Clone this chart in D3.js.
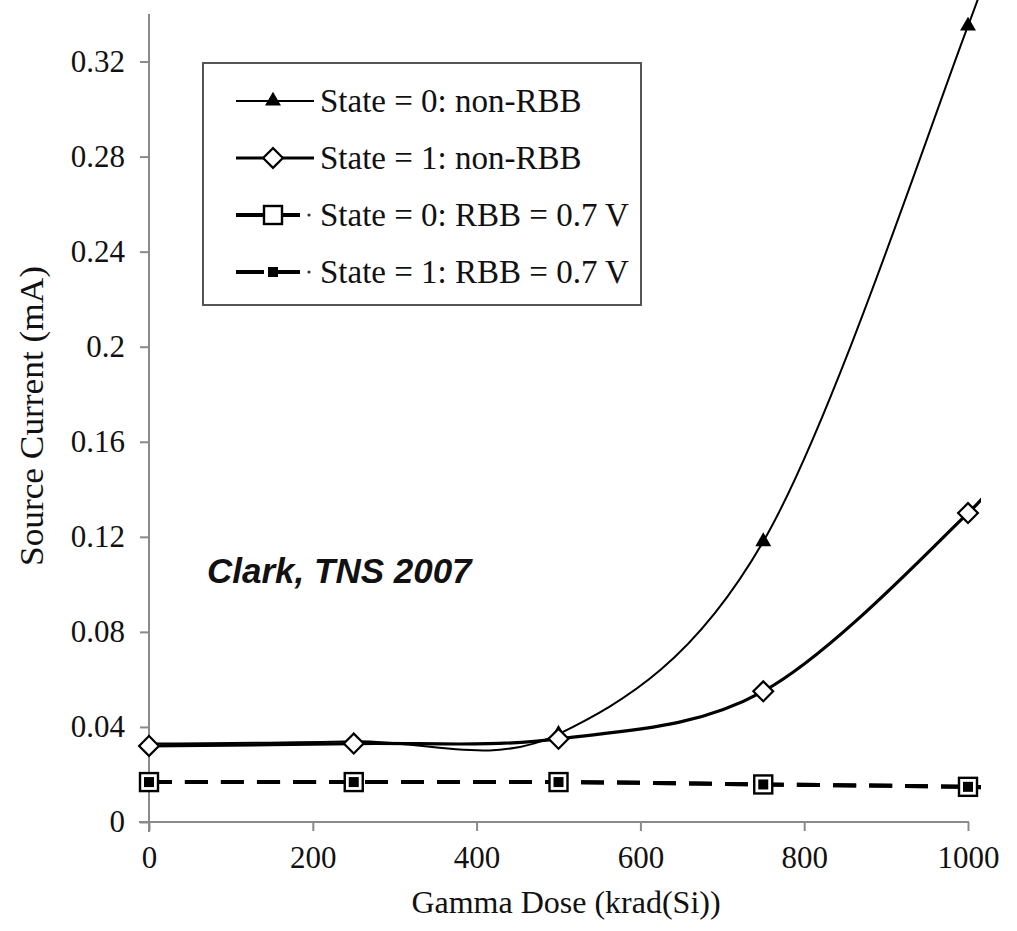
<!DOCTYPE html>
<html>
<head>
<meta charset="utf-8">
<script src="https://cdn.jsdelivr.net/npm/d3@7"></script>
<style>
	body { margin: 0; background: #fff; }
	text { font-family: "Liberation Serif", "Times New Roman", serif; fill: #111; }
	.axis path, .axis line { stroke: #8a8a8a; stroke-width: 2; }
	.axis text { font-size: 31px; font-family: "Liberation Serif", "Times New Roman", serif; }
</style>
</head>
<body>
<div id="chart"></div>
<script>
// dose points (krad(Si)); last point lies just past the axis end and is clipped
var doses = [0, 250, 500, 750, 1000, 1030]
var state0NonRbb = [0.033, 0.034, 0.037, 0.118, 0.335, 0.372]
var state1NonRbb = [0.032, 0.033, 0.035, 0.055, 0.130, 0.147]
var state0Rbb = [0.0168, 0.0168, 0.0168, 0.0158, 0.0148, 0.0140]
var state1Rbb = [0.0168, 0.0168, 0.0168, 0.0158, 0.0148, 0.0140]
var seriesNames = ['State = 0: non-RBB', 'State = 1: non-RBB', 'State = 0: RBB = 0.7 V', 'State = 1: RBB = 0.7 V']
var xTicks = [0, 200, 400, 600, 800, 1000]
var yTicks = [0, 0.04, 0.08, 0.12, 0.16, 0.2, 0.24, 0.28, 0.32]

var width = 1017, height = 931
var margin = { left: 149, top: 14, right: 49, bottom: 109 }
var plotW = width - margin.left - margin.right
var plotH = height - margin.top - margin.bottom

var svg = d3.select('#chart').append('svg')
	.attr('width', width)
	.attr('height', height)

var plot = svg.append('g')
	.attr('transform', 'translate(' + margin.left + ',' + margin.top + ')')

var x = d3.scaleLinear().domain([0, 1000]).range([0, 819])
var y = d3.scaleLinear().domain([0, 0.34]).range([plotH, 0])

/* axes */
var xAxisG = plot.append('g')
	.attr('class', 'axis')
	.attr('transform', 'translate(0,' + plotH + ')')
	.call(d3.axisBottom(x).tickValues(xTicks).tickSize(9).tickPadding(15).tickSizeOuter(0)
		.tickFormat(function (d) { return String(d) }))
xAxisG.select('.domain').attr('d', 'M-10,0H' + (x(1000) + 1))

var yAxisG = plot.append('g')
	.attr('class', 'axis')
	.call(d3.axisLeft(y).tickValues(yTicks).tickSize(9).tickPadding(15).tickSizeOuter(0)
		.tickFormat(function (d) { return String(+d.toFixed(2)) }))
yAxisG.select('.domain').attr('d', 'M0,0V' + (plotH + 10))

/* axis labels */
svg.append('text')
	.attr('x', 566).attr('y', 913)
	.attr('text-anchor', 'middle')
	.style('font-size', '32px')
	.text('Gamma Dose (krad(Si))')

svg.append('text')
	.attr('transform', 'translate(43,416) rotate(-90)')
	.attr('text-anchor', 'middle')
	.attr('textLength', 300)
	.attr('lengthAdjust', 'spacingAndGlyphs')
	.style('font-size', '33px')
	.text('Source Current (mA)')

/* series */
var clip = svg.append('clipPath').attr('id', 'plotClip')
clip.append('rect')
	.attr('x', 0).attr('y', -margin.top)
	.attr('width', x(1000) + 13).attr('height', plotH + margin.top)

var lineGen = d3.line()
	.curve(d3.curveCardinal.tension(0))
	.x(function (d) { return x(d[0]) })
	.y(function (d) { return y(d[1]) })

function pairs(vals) {
	return doses.map(function (d, i) { return [d, vals[i]] })
}

var series = [
	{ vals: state0NonRbb, width: 2, dash: null, marker: 'triangle' },
	{ vals: state1NonRbb, width: 3.2, dash: null, marker: 'diamond' },
	{ vals: state0Rbb, width: 4, dash: '23,13', marker: 'openSquare' },
	{ vals: state1Rbb, width: 4, dash: '23,13', marker: 'smallSquare' }
]

var lines = plot.append('g').attr('clip-path', 'url(#plotClip)')
series.forEach(function (s) {
	lines.append('path')
		.attr('d', lineGen(pairs(s.vals)))
		.attr('fill', 'none')
		.attr('stroke', '#000')
		.attr('stroke-width', s.width)
		.attr('stroke-dasharray', s.dash)
})

function drawMarker(g, type, cx, cy) {
	if (type == 'triangle') {
		g.append('path')
			.attr('d', d3.symbol(d3.symbolTriangle, 110)())
			.attr('transform', 'translate(' + cx + ',' + cy + ')')
			.attr('fill', '#000')
	} else if (type == 'diamond') {
		g.append('rect')
			.attr('x', -7).attr('y', -7).attr('width', 14).attr('height', 14)
			.attr('transform', 'translate(' + cx + ',' + cy + ') rotate(45)')
			.attr('fill', '#fff').attr('stroke', '#000').attr('stroke-width', 2.2)
	} else if (type == 'openSquare') {
		g.append('rect')
			.attr('x', cx - 9).attr('y', cy - 9).attr('width', 18).attr('height', 18)
			.attr('fill', '#fff').attr('stroke', '#000').attr('stroke-width', 2.4)
	} else {
		g.append('rect')
			.attr('x', cx - 5).attr('y', cy - 5).attr('width', 10).attr('height', 10)
			.attr('fill', '#000')
	}
}

var markers = plot.append('g')
series.forEach(function (s) {
	pairs(s.vals).forEach(function (p) {
		if (p[0] <= 1000)
			drawMarker(markers, s.marker, x(p[0]), y(p[1]))
	})
})

/* annotation */
svg.append('text')
	.attr('x', 207).attr('y', 583)
	.style('font-family', 'Arial, "Liberation Sans", sans-serif')
	.style('font-weight', 'bold')
	.style('font-style', 'italic')
	.style('font-size', '35px')
	.text('Clark, TNS 2007')

/* legend */
var legend = svg.append('g')
legend.append('rect')
	.attr('x', 203).attr('y', 63)
	.attr('width', 438).attr('height', 242)
	.attr('fill', '#fff').attr('stroke', '#555').attr('stroke-width', 2)

var rowY = [101, 158, 215, 272]
series.forEach(function (s, i) {
	var ly = rowY[i]
	if (s.dash) {
		legend.append('line').attr('x1', 236).attr('x2', 300).attr('y1', ly).attr('y2', ly)
			.attr('stroke', '#000').attr('stroke-width', s.width).attr('stroke-dasharray', '28,9')
		legend.append('circle').attr('cx', 309).attr('cy', ly).attr('r', 1.6).attr('fill', '#333')
	} else {
		legend.append('line').attr('x1', 236).attr('x2', 314).attr('y1', ly).attr('y2', ly)
			.attr('stroke', '#000').attr('stroke-width', s.width)
	}
	drawMarker(legend, s.marker, 273, ly)
	legend.append('text')
		.attr('x', 320).attr('y', ly)
		.attr('dy', '0.34em')
		.style('font-size', '33px')
		.text(seriesNames[i])
})
</script>
</body>
</html>
